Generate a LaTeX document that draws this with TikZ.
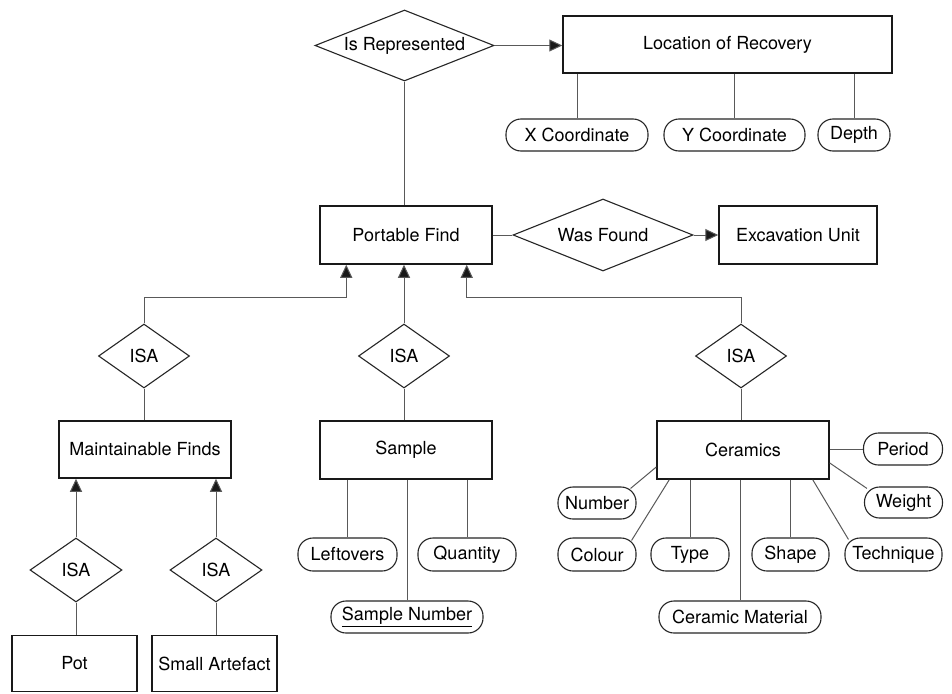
\documentclass[tikz,border=0pt]{standalone}
\usepackage{fontspec}
\setmainfont{TeX Gyre Heros}
\usetikzlibrary{shapes.geometric,arrows.meta}
\begin{document}
\begin{tikzpicture}[x=1pt,y=-1pt,
  font=\fontsize{18}{21}\selectfont,
  ent/.style={draw=black!90,line width=1.5pt,rectangle,inner sep=0pt,minimum height=57pt,fill=white},
  rel/.style={draw=black!85,line width=1.1pt,diamond,inner sep=0pt,fill=white},
  att/.style={draw=black!85,line width=1.1pt,rectangle,rounded corners=15pt,inner sep=0pt,minimum height=32pt,fill=white},
  conn/.style={draw=black!65,line width=1pt},
  arr/.style={conn,-{Triangle[length=13pt,width=12pt,fill=black!90]}}]
\useasboundingbox[fill=white] (0,0) rectangle (952,693);

% top
\node[rel,aspect=2.5,minimum width=179pt,minimum height=71pt] (isrep) at (404.5,45.5) {Is Represented};
\node[ent,minimum width=329pt] (loc) at (727.5,44.5) {Location of Recovery};
\node[att,minimum width=142pt] (xc) at (577,135) {X Coordinate};
\node[att,minimum width=141pt] (yc) at (734.5,135) {Y Coordinate};
\node[att,minimum width=72pt] (dep) at (854,135) {Depth};

% middle
\node[ent,minimum width=172pt,minimum height=58pt] (pf) at (406,235) {Portable Find};
\node[rel,aspect=2.5,minimum width=180pt,minimum height=72pt] (wf) at (603,235) {Was Found};
\node[ent,minimum width=158pt,minimum height=58pt] (exc) at (798,235) {Excavation Unit};

% ISA row
\node[rel,aspect=1.4,minimum width=91pt,minimum height=64pt] (isa1) at (144,356) {ISA};
\node[rel,aspect=1.4,minimum width=91pt,minimum height=64pt] (isa2) at (404,356) {ISA};
\node[rel,aspect=1.4,minimum width=91pt,minimum height=64pt] (isa3) at (741,356) {ISA};

% level 3
\node[ent,minimum width=172pt] (mf) at (145,449.5) {Maintainable Finds};
\node[ent,minimum width=172pt,minimum height=58pt] (sam) at (406,450) {Sample};
\node[ent,minimum width=172pt,minimum height=58pt] (cer) at (743,450) {Ceramics};

% sample attributes
\node[att,minimum width=99pt,minimum height=33pt] (lo) at (347.5,554.5) {Leftovers};
\node[att,minimum width=98pt,minimum height=33pt] (qu) at (467,554.5) {Quantity};
\node[att,minimum width=152pt] (sn) at (407,617) {\underline{Sample Number}};

% ceramics attributes
\node[att,minimum width=79pt] (per) at (903,449) {Period};
\node[att,minimum width=78pt,minimum height=31pt] (wt) at (903.5,502.5) {Weight};
\node[att,minimum width=78pt] (num) at (597,503) {Number};
\node[att,minimum width=78pt,minimum height=33pt] (col) at (597,554.5) {Colour};
\node[att,minimum width=78pt,minimum height=33pt] (ty) at (690,554.5) {Type};
\node[att,minimum width=77pt,minimum height=33pt] (sh) at (790.5,554.5) {Shape};
\node[att,minimum width=97pt,minimum height=33pt] (tech) at (893.5,554.5) {Technique};
\node[att,minimum width=162pt] (cm) at (740,617) {Ceramic Material};

% bottom left
\node[rel,aspect=1.4,minimum width=92pt,minimum height=64pt] (isa4) at (76,570) {ISA};
\node[rel,aspect=1.4,minimum width=92pt,minimum height=64pt] (isa5) at (216,570) {ISA};
\node[ent,minimum width=125pt,minimum height=56pt] (pot) at (74.5,663.5) {Pot};
\node[ent,minimum width=125pt,minimum height=56pt] (sa) at (214.5,663.5) {Small Artefact};

% anchor points on Portable Find
\coordinate (pfa) at ([xshift=27pt]pf.south west);
\coordinate (pfc) at ([xshift=-26pt]pf.south east);

% connectors
\draw[conn] (isrep.south) -- (isrep.south |- pf.north);
\draw[arr] (isrep.east) -- (isrep.east -| loc.west);
\draw[conn] (xc.north |- loc.south) -- (xc.north);
\draw[conn] (yc.north |- loc.south) -- (yc.north);
\draw[conn] (dep.north |- loc.south) -- (dep.north);

\draw[conn] (pf.east) -- (wf.west);
\draw[arr] (wf.east) -- (exc.west);

\draw[arr] (isa1.north) -- ++(0,-26) -| (pfa);
\draw[arr] (isa2.north) -- (isa2.north |- pf.south);
\draw[arr] (isa3.north) -- ++(0,-26) -| (pfc);

\draw[conn] (isa1.south) -- (isa1.south |- mf.north);
\draw[conn] (isa2.south) -- (isa2.south |- sam.north);
\draw[conn] (isa3.south) -- (isa3.south |- cer.north);

\draw[conn] (lo.north |- sam.south) -- (lo.north);
\draw[conn] (qu.north |- sam.south) -- (qu.north);
\draw[conn] (sn.north |- sam.south) -- (sn.north);

\draw[conn] (cer.east |- per.west) -- (per.west);
\draw[conn] ([yshift=-13pt]cer.east) -- ([xshift=3pt,yshift=-2pt]wt.north west);
\draw[conn] ([yshift=-17pt]cer.west) -- ([xshift=-6pt,yshift=-2pt]num.north east);
\draw[conn] ([xshift=13pt]cer.south west) -- ([xshift=-5pt,yshift=-3pt]col.north east);
\draw[conn] (ty.north |- cer.south) -- (ty.north);
\draw[conn] (sh.north |- cer.south) -- (sh.north);
\draw[conn] (cm.north |- cer.south) -- (cm.north);
\draw[conn] ([xshift=-17pt]cer.south east) -- ([xshift=4pt,yshift=-2pt]tech.north west);

\draw[arr] (isa4.north) -- (isa4.north |- mf.south);
\draw[arr] (isa5.north) -- (isa5.north |- mf.south);
\draw[conn] (isa4.south) -- (isa4.south |- pot.north);
\draw[conn] (isa5.south) -- (isa5.south |- sa.north);
\end{tikzpicture}
\end{document}
